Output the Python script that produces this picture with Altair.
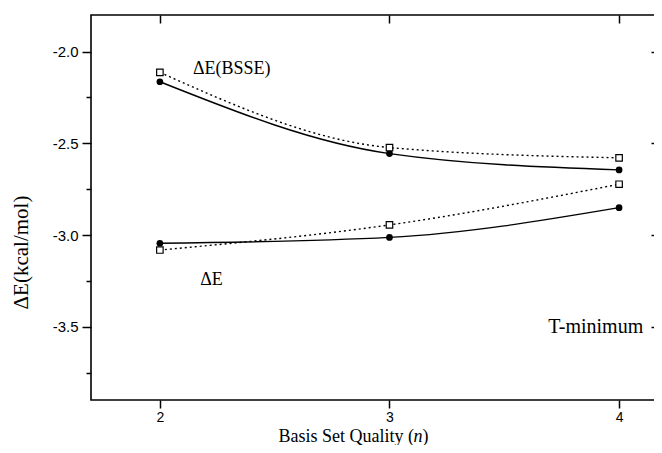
import altair as alt
import pandas as pd

# ---- data ----
n_values = [2, 3, 4]
bsse_circle = [-2.164, -2.556, -2.645]   # ΔE(BSSE), filled circles, solid line
bsse_square = [-2.113, -2.523, -2.579]   # ΔE(BSSE), open squares, dotted line
de_circle = [-3.045, -3.013, -2.851]     # ΔE, filled circles, solid line
de_square = [-3.082, -2.945, -2.723]     # ΔE, open squares, dotted line

ann_labels = ["ΔE(BSSE)", "ΔE"]
ann_x = [2.313, 2.225]
ann_y = [-2.093, -3.246]
tmin_label = ["T-minimum"]
tmin_x = [4.105]
tmin_y = [-3.5]

y_ticks = [-3.75, -3.5, -3.25, -3.0, -2.75, -2.5, -2.25, -2.0]
x_ticks = [2, 3, 4]

rows = []
for name, vals, mk in [("bsse_c", bsse_circle, "circle"), ("bsse_s", bsse_square, "square"),
                       ("de_c", de_circle, "circle"), ("de_s", de_square, "square")]:
    for xv, yv in zip(n_values, vals):
        rows.append({"n": xv, "dE": yv, "series": name, "marker": mk})
df = pd.DataFrame(rows)
ann = pd.DataFrame({"n": ann_x, "dE": ann_y, "label": ann_labels})
tmin = pd.DataFrame({"n": tmin_x, "dE": tmin_y, "label": tmin_label})

W, H = 574, 385
xs = alt.Scale(domain=[1.7, 4.2], nice=False, zero=False)
ys = alt.Scale(domain=[-3.9, -1.8], nice=False, zero=False)

major = "abs(datum.value*2 - round(datum.value*2)) < 0.01"
ylab = f"{major} ? ((datum.value < 0 ? '-' : '') + format(abs(datum.value), '.1f')) : ''"

TY = 41   # baseline of the x title, below the plot
TFS = 18  # x title font size

base = alt.Chart(df)

# main axes (bottom, left)
solid = base.transform_filter(alt.datum.marker == "circle").mark_line(
    interpolate="monotone", color="black", strokeWidth=1.4
).encode(
    x=alt.X("n:Q", scale=xs, axis=alt.Axis(
        orient="bottom", values=x_ticks, format="d", tickSize=8, tickWidth=1.5,
        labelPadding=2, labelFontSize=14, domain=False,
        title="Basis Set Quality (", titleX=187, titleY=TY, titleAlign="left",
        titleBaseline="alphabetic", titleFontSize=TFS)),
    y=alt.Y("dE:Q", scale=ys, axis=alt.Axis(
        orient="left", values=y_ticks, labelExpr=ylab,
        tickSize={"condition": {"test": major, "value": 9}, "value": 5},
        tickWidth=1.5, labelPadding=4, labelFontSize=15, domain=False,
        title="ΔE(kcal/mol)", titleX=-70, titleY=237, titleAlign="center",
        titleBaseline="middle", titleAngle=270, titleFontSize=21)),
    detail="series:N",
)

# top axis: ticks pointing inward
dotted = base.transform_filter(alt.datum.marker == "square").mark_line(
    interpolate="monotone", color="black", strokeWidth=1.4, strokeDash=[2, 3]
).encode(
    x=alt.X("n:Q", scale=xs, axis=alt.Axis(
        orient="bottom", offset=-H, values=x_ticks, tickSize=8, tickWidth=1.5,
        labels=False, domain=False, title=None)),
    y=alt.Y("dE:Q", scale=ys, axis=None),
    detail="series:N",
)

# right axis: ticks pointing inward
circles = base.transform_filter(alt.datum.marker == "circle").mark_point(
    shape="circle", filled=True, color="black", size=45, opacity=1
).encode(
    x=alt.X("n:Q", scale=xs, axis=None),
    y=alt.Y("dE:Q", scale=ys, axis=alt.Axis(
        orient="left", offset=-W, values=y_ticks, labels=False, domain=False,
        tickSize={"condition": {"test": major, "value": 14}, "value": 5},
        tickWidth=1.5, title=None)),
)

squares = base.transform_filter(alt.datum.marker == "square").mark_point(
    shape="square", filled=False, fill="white", fillOpacity=1, stroke="black",
    strokeWidth=1.2, size=42, opacity=1
).encode(
    x=alt.X("n:Q", scale=xs, axis=alt.Axis(
        orient="bottom", ticks=False, labels=False, domain=False,
        title="n", titleX=322, titleY=TY, titleAlign="left", titleBaseline="alphabetic",
        titleFontSize=TFS, titleFontStyle="italic")),
    y=alt.Y("dE:Q", scale=ys, axis=None),
)

labels1 = alt.Chart(ann).mark_text(
    font="Liberation Serif", fontSize=18, color="black", align="center", baseline="middle"
).encode(
    x=alt.X("n:Q", scale=xs, axis=alt.Axis(
        orient="bottom", ticks=False, labels=False, domain=False,
        title=")", titleX=331, titleY=TY, titleAlign="left", titleBaseline="alphabetic",
        titleFontSize=TFS)),
    y=alt.Y("dE:Q", scale=ys, axis=None),
    text="label:N",
)

labels2 = alt.Chart(tmin).mark_text(
    font="Liberation Serif", fontSize=20, color="black", align="right", baseline="middle"
).encode(
    x=alt.X("n:Q", scale=xs, axis=None),
    y=alt.Y("dE:Q", scale=ys, axis=None),
    text="label:N",
)

chart = alt.layer(solid, dotted, circles, squares, labels1, labels2).resolve_axis(
    x="independent", y="independent"
).properties(
    width=W, height=H,
    autosize=alt.AutoSizeParams(type="none"),
    padding={"left": 83, "top": 7, "right": -11, "bottom": 45},
    background="white",
).configure_view(
    stroke="black", strokeWidth=1.6
).configure_axis(
    grid=False, labelFont="Liberation Sans", labelColor="black", tickColor="black",
    titleFont="Liberation Serif", titleColor="black", titleFontWeight="normal",
)

chart.save("out.html", embed_options={"renderer": "svg", "actions": False})
